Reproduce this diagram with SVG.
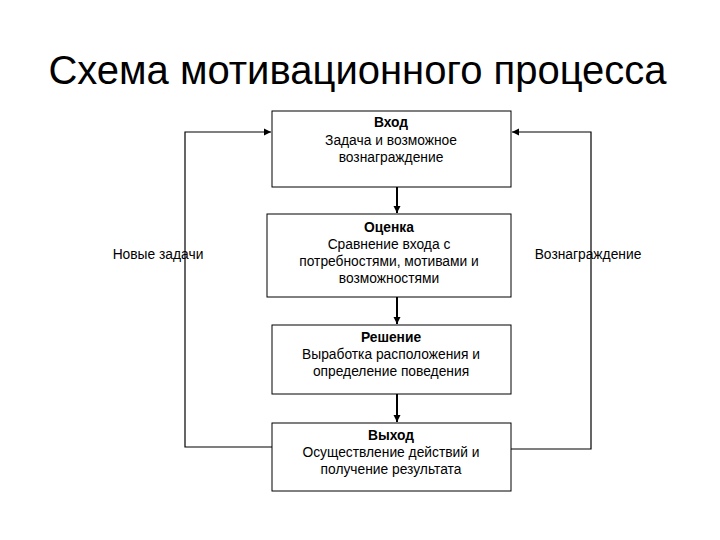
<svg xmlns="http://www.w3.org/2000/svg" width="720" height="540" viewBox="0 0 720 540">
<style>
text{font-family:"Liberation Sans",Arial,sans-serif;fill:#000}
.t{font-size:13.8px;text-anchor:middle}
.b{font-weight:bold}
.box{fill:#fff;stroke:#000;stroke-width:1}
.c{fill:none;stroke:#000;stroke-width:1.2}
.v{fill:none;stroke:#000;stroke-width:2}
</style>
<defs>
<marker id="ah" markerWidth="8" markerHeight="8" refX="7" refY="4" orient="auto" markerUnits="userSpaceOnUse">
<path d="M0,0.5 L7,4 L0,7.5 Z" fill="#000"/>
</marker>
</defs>
<rect width="720" height="540" fill="#fff"/>
<text x="357.5" y="84" style="font-size:40px;text-anchor:middle">Схема мотивационного процесса</text>
<g id="connectors">
<path class="c" d="M272,447 H185 V132 H271" marker-end="url(#ah)"/>
<path class="c" d="M511,449 H591 V132 H512" marker-end="url(#ah)"/>
<path class="v" d="M397,187 V213" marker-end="url(#ah)"/>
<path class="v" d="M397,297 V324" marker-end="url(#ah)"/>
<path class="v" d="M397,394 V422" marker-end="url(#ah)"/>
</g>
<g id="label-left"><text class="t" x="158" y="259">Новые задачи</text></g>
<g id="label-right"><text class="t" x="588" y="259">Вознаграждение</text></g>
<g id="node-input">
<rect class="box" x="272" y="111" width="239" height="76"/>
<text class="t b" x="391" y="127">Вход</text>
<text class="t" x="391" y="145">Задача и возможное</text>
<text class="t" x="391" y="162">вознаграждение</text>
</g>
<g id="node-eval">
<rect class="box" x="267" y="214" width="244" height="83"/>
<text class="t b" x="389" y="232">Оценка</text>
<text class="t" x="389" y="249">Сравнение входа с</text>
<text class="t" x="389" y="266">потребностями, мотивами и</text>
<text class="t" x="389" y="283">возможностями</text>
</g>
<g id="node-decision">
<rect class="box" x="272" y="325" width="239" height="69"/>
<text class="t b" x="391" y="342">Решение</text>
<text class="t" x="391" y="359">Выработка расположения и</text>
<text class="t" x="391" y="376">определение поведения</text>
</g>
<g id="node-output">
<rect class="box" x="272" y="423" width="239" height="68"/>
<text class="t b" x="391" y="440">Выход</text>
<text class="t" x="391" y="457">Осуществление действий и</text>
<text class="t" x="391" y="474">получение результата</text>
</g>
</svg>
